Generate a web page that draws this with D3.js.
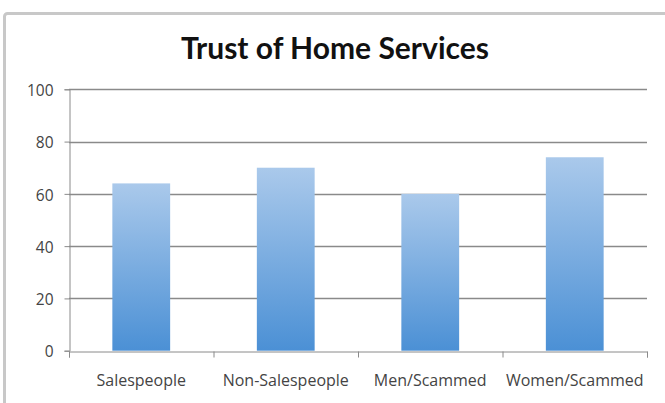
<!DOCTYPE html>
<html><head><meta charset="utf-8">
<script src="https://cdn.jsdelivr.net/npm/d3@7"></script>
<style>body{margin:0;background:#fff;}svg{display:block;}</style>
</head><body>
<script>
const categories = ["Salespeople", "Non-Salespeople", "Men/Scammed", "Women/Scammed"];
const values = [64, 70, 60, 74];
const yTicks = [0, 20, 40, 60, 80, 100];
const title = "Trust of Home Services";

(function () {
const W = 665, H = 403;
const svg = d3.select("body").append("svg").attr("width", W).attr("height", H);

// frame
svg.append("rect").attr("x", 4.5).attr("y", 13.5).attr("width", 700).attr("height", 420)
  .attr("rx", 3).attr("fill", "#fff").attr("stroke", "#c8c8c8").attr("stroke-width", 3);

const pl = 69, pr = 647, pt = 89.3, pb = 350.7;

const x = d3.scaleBand().domain(categories).range([pl, pr]).paddingInner(0.6).paddingOuter(0.3);
const xEdges = d3.scaleLinear().domain([0, categories.length]).range([pl, pr]);
const y = d3.scaleLinear().domain([0, 100]).range([pb, pt]);

const defs = svg.append("defs");
const grad = defs.append("linearGradient").attr("id", "g").attr("x1", 0).attr("y1", 0).attr("x2", 0).attr("y2", 1);
grad.append("stop").attr("offset", "0%").attr("stop-color", "#aac9eb");
grad.append("stop").attr("offset", "100%").attr("stop-color", "#4b90d5");

// gridlines
svg.append("g").selectAll("line").data(yTicks.filter(d => d > 0)).join("line")
  .attr("x1", pl).attr("x2", pr).attr("y1", d => Math.round(y(d)) + 0.5).attr("y2", d => Math.round(y(d)) + 0.5)
  .attr("stroke", "#8a8a8a").attr("stroke-width", 1.3);

// bars
svg.append("g").selectAll("rect").data(values).join("rect")
  .attr("x", (d, i) => x(categories[i])).attr("width", x.bandwidth())
  .attr("y", d => y(d)).attr("height", d => y(0) - y(d))
  .attr("fill", "url(#g)");

const font = "'Open Sans', sans-serif";
// y axis
const ya = svg.append("g").attr("transform", `translate(${pl + 0.5},0)`)
  .call(d3.axisLeft(y).tickValues(yTicks).tickSize(5).tickPadding(11));
ya.select(".domain").attr("stroke", "#8a8a8a");
ya.selectAll(".tick line").attr("stroke", "#8a8a8a");
ya.selectAll("text").attr("font-family", font).attr("font-size", 15.5).attr("fill", "#444").attr("dy", "0.4em");

// x axis
const xa = svg.append("g").attr("transform", `translate(0,${Math.round(pb) + 0.5})`)
  .call(d3.axisBottom(xEdges).tickValues(d3.range(categories.length + 1)).tickSize(6).tickFormat(""));
xa.select(".domain").attr("stroke", "#8a8a8a");
xa.selectAll(".tick line").attr("stroke", "#8a8a8a");
svg.append("g").selectAll("text").data(categories).join("text")
  .attr("x", d => x(d) + x.bandwidth() / 2).attr("y", 386)
  .attr("text-anchor", "middle")
  .attr("font-family", font).attr("font-size", 16).attr("fill", "#444")
  .text(d => d);

// title
svg.append("text").attr("x", 335).attr("y", 59).attr("text-anchor", "middle")
  .attr("font-family", "Lato, 'Open Sans', sans-serif").attr("font-weight", "bold").attr("font-size", 30)
  .attr("fill", "#111").text(title);
})();
</script>
</body></html>
